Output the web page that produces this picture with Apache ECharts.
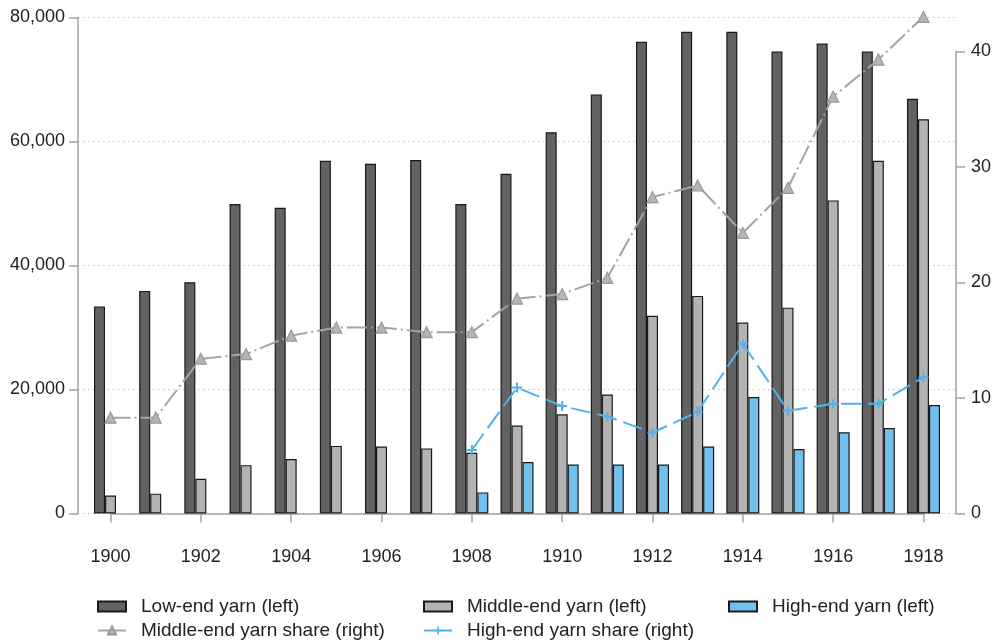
<!DOCTYPE html>
<html>
<head>
<meta charset="utf-8">
<script src="https://cdn.jsdelivr.net/npm/echarts@6/dist/echarts.min.js"></script>
<style>html,body{margin:0;padding:0;background:#fff}#c{width:1000px;height:643px}</style>
</head>
<body>
<div id="c"></div>
<script>
// ---- data ----
const years = [1900,1901,1902,1903,1904,1905,1906,1907,1908,1909,1910,1911,1912,1913,1914,1915,1916,1917,1918];
const lowEnd = [33400,35900,37300,49900,49300,56900,56400,57000,49900,54800,61500,67600,76100,77700,77700,74500,75800,74500,66900];
const middleEnd = [2900,3200,5600,7800,8800,10900,10800,10500,9800,14200,16000,19200,31900,35100,30800,33200,50500,56900,63600];
const highEndYears = [1908,1909,1910,1911,1912,1913,1914,1915,1916,1917,1918];
const highEnd = [3400,8300,7900,7900,7900,10800,18800,10400,13100,13800,17500];
const middleShare = [8.3,8.3,13.4,13.8,15.4,16.1,16.1,15.7,15.7,18.6,19.0,20.4,27.4,28.4,24.3,28.2,36.1,39.3,43.0];
const highShare = [5.5,10.9,9.3,8.4,7.0,8.8,14.7,8.9,9.5,9.5,11.8];

const FONT = '"Liberation Sans", Arial, Helvetica, sans-serif';
const pair = (xs, ys) => xs.map((x, i) => [x, ys[i]]);
const PAD = 0.72;
const AXIS_COLOR = '#a3a3a3';
const TEXT_COLOR = '#222';
const PLUS = 'path://M4,0 H6 V4 H10 V6 H6 V10 H4 V6 H0 V4 H4 Z';

const chart = echarts.init(document.getElementById('c'), null, {renderer: 'canvas'});
const legendCommon = {
  orient: 'vertical', top: 597, height: 80, itemWidth: 28, itemHeight: 10, itemGap: 5,
  selectedMode: false, padding: 0,
  textStyle: {fontSize: 19, color: TEXT_COLOR, fontFamily: FONT, padding: [0, 0, 0, 10]}
};
const barItem = name => ({name: name, icon: 'rect'});
const lineItem = name => ({name: name, lineStyle: {type: 'solid'}});
const option = {
  animation: false,
  backgroundColor: '#fff',
  textStyle: {fontFamily: FONT},
  grid: [
    {left: 78, right: 44, top: 17.5, bottom: 129.5},
    {left: 110.5, right: 76.5, top: 51.5, bottom: 129.5}
  ],
  legend: [
    Object.assign({left: 97, data: [barItem('Low-end yarn (left)'), lineItem('Middle-end yarn share (right)')]}, legendCommon),
    Object.assign({left: 423, data: [barItem('Middle-end yarn (left)'), lineItem('High-end yarn share (right)')]}, legendCommon),
    Object.assign({left: 728, data: [barItem('High-end yarn (left)')]}, legendCommon)
  ],
  xAxis: [
    {gridIndex: 0, type: 'value', min: years[0] - PAD, max: years[years.length - 1] + PAD, show: false},
    {gridIndex: 1, type: 'value', min: 1900, max: 1918, interval: 2, offset: 16.5,
      axisLine: {show: true, lineStyle: {color: AXIS_COLOR, width: 1.5}},
      axisTick: {show: true, length: 9, lineStyle: {color: AXIS_COLOR, width: 1.5}},
      axisLabel: {fontSize: 18, color: TEXT_COLOR, margin: 18, formatter: v => String(v)},
      splitLine: {show: false}}
  ],
  yAxis: [
    {gridIndex: 0, type: 'value', min: 0, max: 80000, interval: 20000,
      axisLine: {show: true, lineStyle: {color: AXIS_COLOR, width: 1.5}},
      axisTick: {show: true, length: 9, lineStyle: {color: AXIS_COLOR, width: 1.5}},
      axisLabel: {fontSize: 18, color: TEXT_COLOR, margin: 13, formatter: v => v.toLocaleString('en-US')},
      splitLine: {show: true, lineStyle: {color: '#c4c4c4', width: 1, type: [1.5, 3.5]}}},
    {gridIndex: 1, type: 'value', position: 'right', offset: 32.5, min: 0, max: 40, interval: 10,
      axisLine: {show: true, lineStyle: {color: AXIS_COLOR, width: 1.5}},
      axisTick: {show: true, length: 9, lineStyle: {color: AXIS_COLOR, width: 1.5}},
      axisLabel: {fontSize: 18, color: TEXT_COLOR, margin: 15},
      splitLine: {show: false}}
  ],
  series: [
    {name: 'Low-end yarn (left)', type: 'bar', xAxisIndex: 0, yAxisIndex: 0, barWidth: 11, barGap: '0%',
      data: pair(years, lowEnd), itemStyle: {color: '#626262', borderColor: '#1a1a1a', borderWidth: 1.2}},
    {name: 'Middle-end yarn (left)', type: 'bar', xAxisIndex: 0, yAxisIndex: 0, barWidth: 11, barGap: '0%',
      data: pair(years, middleEnd), itemStyle: {color: '#b3b3b3', borderColor: '#1a1a1a', borderWidth: 1.2}},
    {name: 'High-end yarn (left)', type: 'bar', xAxisIndex: 0, yAxisIndex: 0, barWidth: 11, barGap: '0%',
      data: pair(highEndYears, highEnd), itemStyle: {color: '#72c1ec', borderColor: '#1a1a1a', borderWidth: 1.2}},
    {name: 'Middle-end yarn share (right)', type: 'line', xAxisIndex: 1, yAxisIndex: 1, clip: false, z: 5,
      data: pair(years, middleShare), symbol: 'triangle', symbolSize: 11, showAllSymbol: true,
      lineStyle: {color: '#a3a3a3', width: 2, type: [20, 4, 2, 4]},
      itemStyle: {color: '#b5b5b5', borderColor: '#999999', borderWidth: 1.2}},
    {name: 'High-end yarn share (right)', type: 'line', xAxisIndex: 1, yAxisIndex: 1, clip: false, z: 5,
      data: pair(highEndYears, highShare), symbol: PLUS, symbolSize: 10, showAllSymbol: true,
      lineStyle: {color: '#4fb2ea', width: 2, type: [20, 7]},
      itemStyle: {color: '#4fb2ea'}}
  ]
};
chart.setOption(option);
</script>
</body>
</html>
